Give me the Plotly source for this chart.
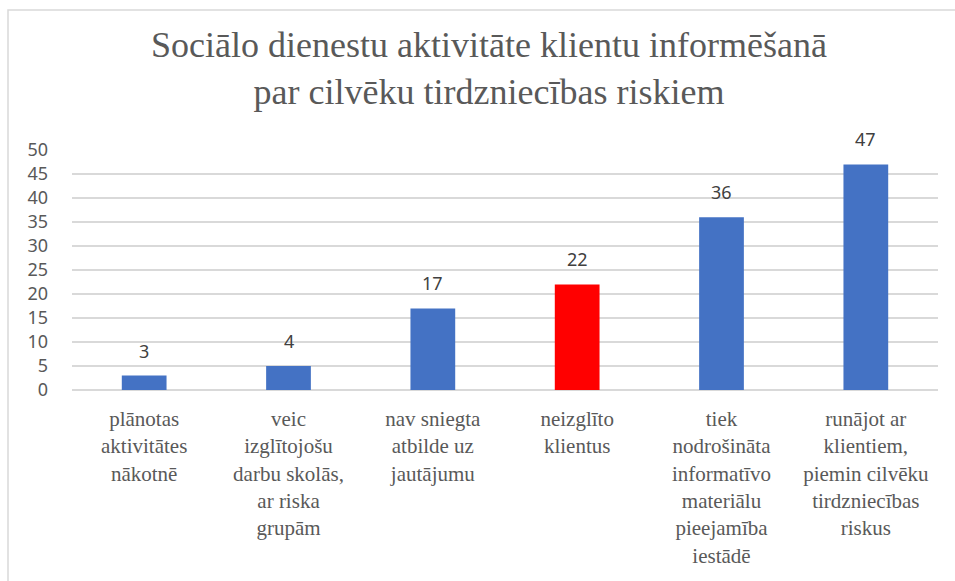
import plotly.graph_objects as go

categories = [
    "plānotas<br>aktivitātes<br>nākotnē",
    "veic<br>izglītojošu<br>darbu skolās,<br>ar riska<br>grupām",
    "nav sniegta<br>atbilde uz<br>jautājumu",
    "neizglīto<br>klientus",
    "tiek<br>nodrošināta<br>informatīvo<br>materiālu<br>pieejamība<br>iestādē",
    "runājot ar<br>klientiem,<br>piemin cilvēku<br>tirdzniecības<br>riskus",
]
values = [3, 5, 17, 22, 36, 47]
value_labels = ["3", "4", "17", "22", "36", "47"]
bar_colors = ["#4472C4", "#4472C4", "#4472C4", "#FF0000", "#4472C4", "#4472C4"]
y_ticks = [0, 5, 10, 15, 20, 25, 30, 35, 40, 45, 50]

title_text = "Sociālo dienestu aktivitāte klientu informēšanā<br>par cilvēku tirdzniecības riskiem"

SERIF = "Liberation Serif"
SANS = "Noto Sans"

fig = go.Figure()
fig.add_trace(go.Bar(
    x=categories,
    y=values,
    marker=dict(color=bar_colors, line=dict(width=0)),
    width=0.31,
    hoverinfo="skip",
))

for c, v, t in zip(categories, values, value_labels):
    fig.add_annotation(
        x=c, y=v, text=t, showarrow=False,
        yanchor="bottom", yshift=11,
        font=dict(family=SANS, size=18, color="#404040"),
    )

W, H = 955, 581
L, R, T, B = 72, 17, 150, 191
pw, ph = W - L - R, H - T - B

def px_x(p):
    return (p - L) / pw

def px_y(p):
    return 1 - (p - T) / ph

# chart border (partly cropped on right/bottom)
fig.add_shape(type="rect", xref="paper", yref="paper",
              x0=px_x(8), x1=px_x(975), y0=px_y(620), y1=px_y(10),
              line=dict(color="#D9D9D9", width=1.5), fillcolor="rgba(0,0,0,0)",
              layer="below")

fig.update_layout(
    width=W, height=H,
    margin=dict(l=L, r=R, t=T, b=B, pad=0),
    paper_bgcolor="white",
    plot_bgcolor="white",
    showlegend=False,
    title=dict(
        text=title_text,
        x=489 / W, xanchor="center", xref="container",
        y=1 - 57 / H, yanchor="top", yref="container",
        font=dict(family=SERIF, size=36, color="#595959"),
    ),
    xaxis=dict(
        tickfont=dict(family=SERIF, size=21, color="#595959"),
        showgrid=False,
        showline=False,
        ticks="",
        ticklabelstandoff=14,
        tickangle=0,
        automargin=False,
        fixedrange=True,
    ),
    yaxis=dict(
        range=[0, 50],
        tickvals=y_ticks,
        tickfont=dict(family=SANS, size=18, color="#595959"),
        showgrid=True,
        gridcolor="#D9D9D9",
        gridwidth=1.5,
        zeroline=True,
        zerolinecolor="#D9D9D9",
        zerolinewidth=1.5,
        showline=False,
        ticks="",
        ticklabelstandoff=23,
        automargin=False,
        fixedrange=True,
    ),
)

fig.write_html("out.html", config={"displayModeBar": False},
               post_script="document.body.style.margin='0';")
